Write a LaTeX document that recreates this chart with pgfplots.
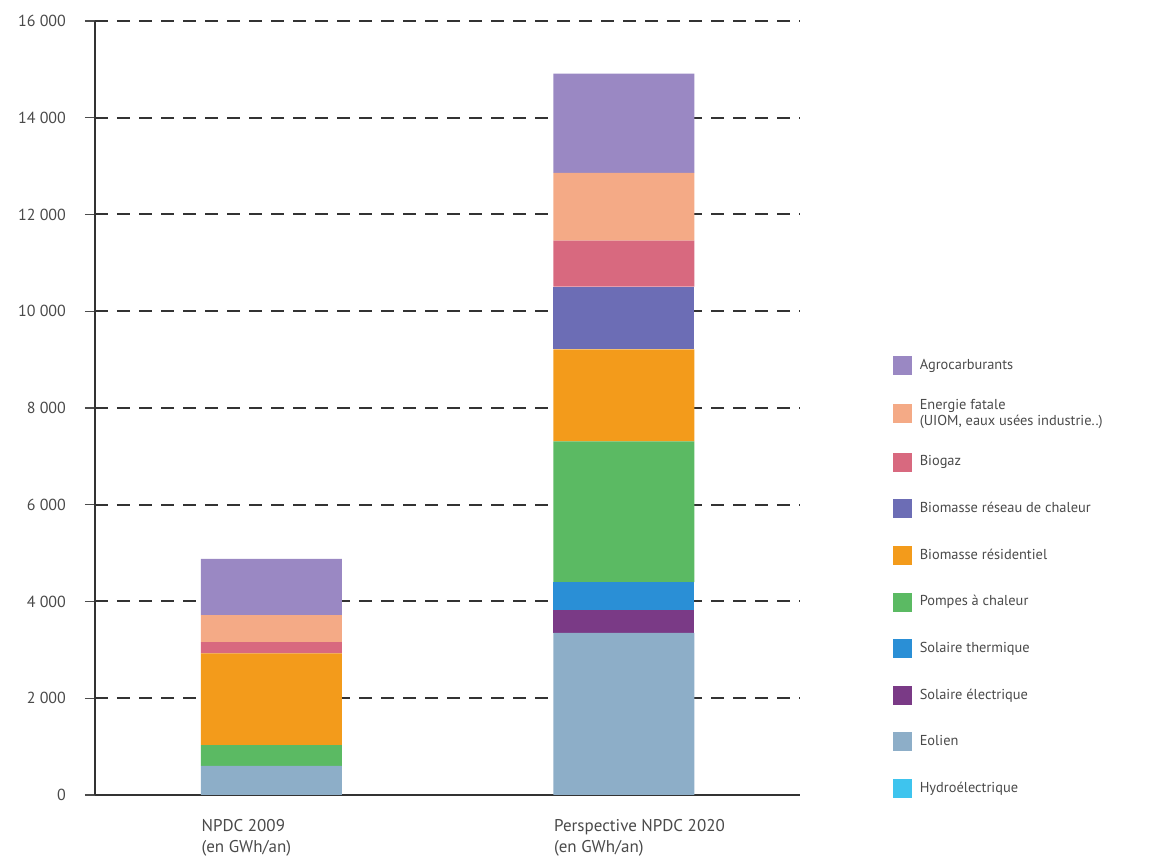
\documentclass[border=0pt]{standalone}
\usepackage{pgfplots}
\pgfplotsset{compat=1.18}
\usepackage{fontspec}
\setmainfont{PT Sans}
\definecolor{cAgro}{HTML}{9A88C3}
\definecolor{cEF}{HTML}{F4AA86}
\definecolor{cBiogaz}{HTML}{D8697F}
\definecolor{cBReseau}{HTML}{6C6DB5}
\definecolor{cBRes}{HTML}{F39B1B}
\definecolor{cPAC}{HTML}{5BBA63}
\definecolor{cSolT}{HTML}{2A8FD6}
\definecolor{cSolE}{HTML}{7A3A86}
\definecolor{cEol}{HTML}{8DAEC8}
\definecolor{cHydro}{HTML}{3EC4EE}
\definecolor{txt}{HTML}{4A4A4A}
\begin{document}
\begin{tikzpicture}
\useasboundingbox (0pt,0pt) rectangle (582.5pt,432.5pt);
\begin{axis}[
  at={(47.5pt,35pt)}, anchor=south west,
  scale only axis, width=352.5pt, height=387pt,
  ybar stacked, bar width=0.4,
  xmin=-0.5, xmax=1.5, ymin=0, ymax=16000,
  axis x line*=bottom, axis y line*=left,
  axis line style={line width=0.8pt, color=black!80},
  xtick={0,1},
  xticklabels={{NPDC 2009\\(en GWh/an)},{Perspective NPDC 2020\\(en GWh/an)}},
  xticklabel style={align=left, anchor=north west, inner sep=0pt, xshift=-35pt, yshift=-7pt, font=\fontsize{8.5}{10.5}\selectfont, text=txt},
  xtick style={draw=none},
  ytick={0,2000,...,16000},
  scaled y ticks=false,
  yticklabel style={font=\fontsize{8}{9}\selectfont, text=txt, xshift=-6pt},
  /pgf/number format/.cd, 1000 sep={\ }, assume math mode=true, /pgfplots/.cd,
  tick align=outside, major tick length=5pt,
  ytick style={line width=0.6pt, color=black!70},
  ymajorgrids,
  grid style={dash pattern=on 6.5pt off 4.5pt, line width=1pt, color=black!80},
  reverse legend,
  legend style={at={(axis description cs:1.131,0.576)}, anchor=north west, draw=none, fill=none,
    font=\fontsize{7.2}{8.2}\selectfont, text=txt, row sep=7.3pt, column sep=2.5pt, inner sep=0pt,
    nodes={minimum height=16pt, inner sep=1.5pt},
    cells={anchor=west, align=left}},
  legend image code/.code={\fill[#1] (0pt,-4.75pt) rectangle (9.5pt,4.75pt);},
]
\addplot[fill=cHydro, draw=none] coordinates {(0,0) (1,0)};
\addlegendentry{Hydroélectrique}
\addplot[fill=cEol, draw=none] coordinates {(0,600) (1,3350)};
\addlegendentry{Eolien}
\addplot[fill=cSolE, draw=none] coordinates {(0,0) (1,470)};
\addlegendentry{Solaire électrique}
\addplot[fill=cSolT, draw=none] coordinates {(0,0) (1,580)};
\addlegendentry{Solaire thermique}
\addplot[fill=cPAC, draw=none] coordinates {(0,430) (1,2910)};
\addlegendentry{Pompes à chaleur}
\addplot[fill=cBRes, draw=none] coordinates {(0,1900) (1,1900)};
\addlegendentry{Biomasse résidentiel}
\addplot[fill=cBReseau, draw=none] coordinates {(0,0) (1,1300)};
\addlegendentry{Biomasse réseau de chaleur}
\addplot[fill=cBiogaz, draw=none] coordinates {(0,230) (1,950)};
\addlegendentry{Biogaz}
\addplot[fill=cEF, draw=none] coordinates {(0,560) (1,1400)};
\addlegendentry{Energie fatale\\(UIOM, eaux usées industrie..)}
\addplot[fill=cAgro, draw=none] coordinates {(0,1160) (1,2050)};
\addlegendentry{Agrocarburants}
\end{axis}
\end{tikzpicture}
\end{document}
